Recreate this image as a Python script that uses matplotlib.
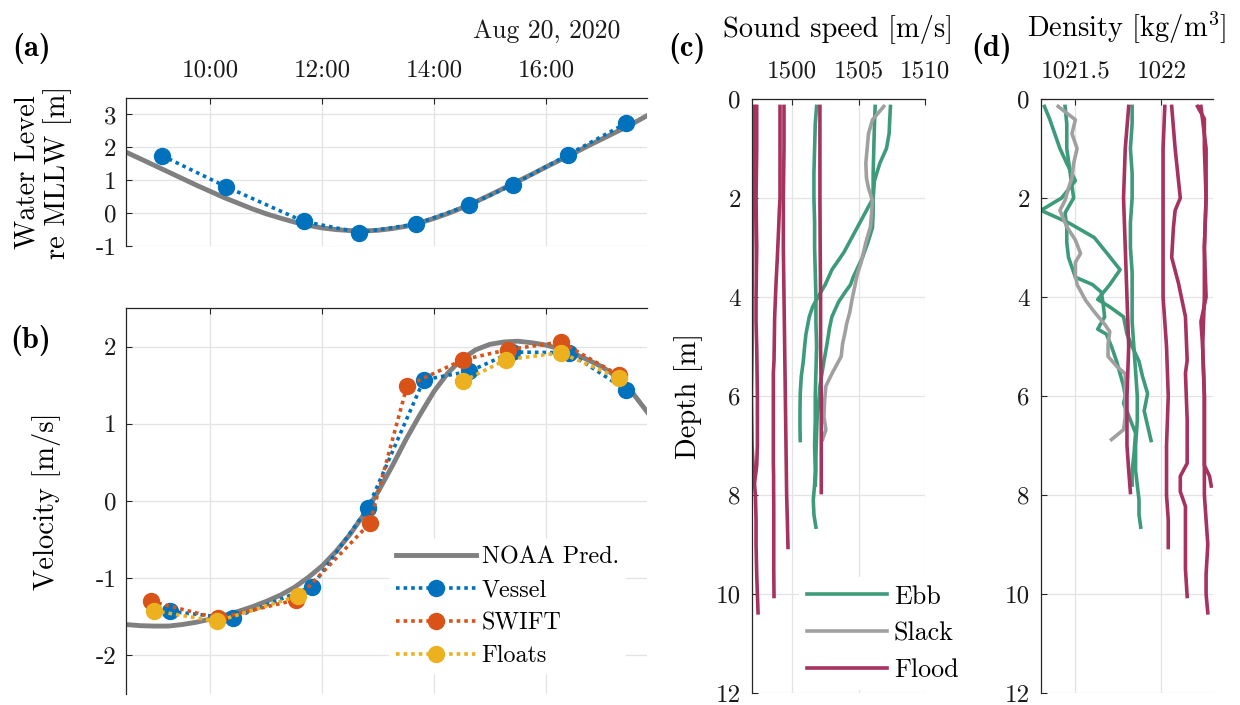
import numpy as np
import pandas as pd
import matplotlib
matplotlib.use('Agg')
import matplotlib.pyplot as plt

plt.rcParams['font.family'] = 'cmr10'
plt.rcParams['mathtext.fontset'] = 'cm'
plt.rcParams['axes.unicode_minus'] = False

day = '2020-08-20 '

# NOAA predictions (tide and current), every 15 min
noaa_times = ['08:29', '08:45', '09:00', '09:15', '09:30', '09:45', '10:00', '10:15', '10:30', '10:45',
              '11:00', '11:15', '11:30', '11:45', '12:00', '12:15', '12:30', '12:45', '13:00', '13:15',
              '13:30', '13:45', '14:00', '14:15', '14:30', '14:45', '15:00', '15:15', '15:30', '15:45',
              '16:00', '16:15', '16:30', '16:45', '17:00', '17:15', '17:30', '17:49']
noaa_level = [1.86, 1.65, 1.45, 1.25, 1.05, 0.85, 0.66, 0.47, 0.30, 0.13,
              -0.02, -0.15, -0.27, -0.37, -0.45, -0.50, -0.53, -0.54, -0.52, -0.47,
              -0.40, -0.29, -0.16, -0.01, 0.16, 0.35, 0.55, 0.76, 0.97, 1.18,
              1.40, 1.61, 1.82, 2.04, 2.25, 2.46, 2.67, 2.97]
noaa_vel = [-1.60, -1.615, -1.62, -1.62, -1.60, -1.57, -1.53, -1.48, -1.43, -1.37,
            -1.30, -1.22, -1.12, -0.99, -0.84, -0.65, -0.43, -0.17, 0.12, 0.45,
            0.80, 1.12, 1.42, 1.66, 1.84, 1.96, 2.03, 2.06, 2.07, 2.05,
            2.02, 1.97, 1.91, 1.83, 1.74, 1.62, 1.45, 1.15]

# measured water level from the vessel
level_times = ['09:08', '10:17', '11:40', '12:40', '13:41', '14:38', '15:25', '16:24', '17:26']
vessel_level = [1.75, 0.80, -0.25, -0.59, -0.33, 0.25, 0.87, 1.78, 2.73]

# depth averaged velocity (no float data around slack water)
vessel_times = ['09:17', '10:24', '11:49', '12:49', '13:49', '14:38', '15:24', '16:25', '17:26']
vessel_vel = [-1.43, -1.52, -1.11, -0.09, 1.57, 1.68, 1.93, 1.92, 1.44]
swift_times = ['08:56', '10:08', '11:32', '12:51', '13:31', '14:31', '15:19', '16:16', '17:18']
swift_vel = [-1.30, -1.52, -1.28, -0.29, 1.49, 1.83, 1.96, 2.06, 1.63]
float_times = ['08:59', '10:07', '11:34', '12:50', '14:31', '15:17', '16:16', '17:19']
float_vel = [-1.42, -1.56, -1.23, np.nan, 1.55, 1.83, 1.92, 1.59]

time_window = ['08:29:24', '17:48:36']
hour_ticks = ['10:00', '12:00', '14:00', '16:00']
level_ticks = [-1, 0, 1, 2, 3]
vel_ticks = [-2, -1, 0, 1, 2]

# CTD casts: depth [m], sound speed [m/s], density [kg/m^3]
ebb1_z = [0.15, 0.5, 1.0, 1.5, 2.0, 2.5, 3.0, 3.5, 4.0, 4.5, 5.0, 5.5, 6.0, 6.5, 7.0, 7.5, 7.8, 8.1, 8.4, 8.65]
ebb1_c = [1501.85, 1501.75, 1501.7, 1501.65, 1501.65, 1501.7, 1501.7, 1501.75, 1501.8, 1501.8,
          1501.85, 1501.8, 1501.75, 1501.75, 1501.7, 1501.75, 1501.7, 1501.6, 1501.65, 1501.8]
ebb1_rho = [1021.83, 1021.83, 1021.82, 1021.83, 1021.83, 1021.82, 1021.82, 1021.83, 1021.83, 1021.83,
            1021.84, 1021.85, 1021.86, 1021.86, 1021.85, 1021.85, 1021.86, 1021.87, 1021.87, 1021.88]

ebb2_z = [0.15, 0.4, 0.7, 1.0, 1.3, 1.65, 2.0, 2.25, 2.5, 2.8, 3.1, 3.45, 3.75, 4.05, 4.2, 4.4,
          4.75, 5.0, 5.3, 5.6, 5.95, 6.3, 6.6, 6.9]
ebb2_c = [1507.4, 1507.35, 1507.3, 1507.1, 1506.6, 1506.2, 1506.1, 1505.6, 1505.1, 1504.5, 1503.9,
          1503.0, 1502.5, 1501.85, 1501.55, 1501.3, 1501.05, 1500.95, 1500.85, 1500.7, 1500.62,
          1500.6, 1500.6, 1500.62]
ebb2_rho = [1021.32, 1021.35, 1021.38, 1021.41, 1021.45, 1021.50, 1021.42, 1021.30, 1021.46, 1021.61,
            1021.68, 1021.76, 1021.70, 1021.63, 1021.70, 1021.78, 1021.80, 1021.83, 1021.87, 1021.89,
            1021.92, 1021.90, 1021.92, 1021.94]

ebb3_z = [0.15, 0.5, 1.0, 1.5, 2.0, 2.3, 2.6, 2.9, 3.2, 3.6, 3.75, 3.9, 4.1, 4.4, 4.65, 4.75, 5.0,
          5.3, 5.8, 6.0, 6.15, 6.4, 6.75, 7.2, 7.5, 7.8]
ebb3_c = [1506.25, 1506.2, 1506.15, 1506.1, 1506.1, 1506.1, 1506.05, 1505.7, 1505.3, 1504.6, 1504.4,
          1504.0, 1503.5, 1503.0, 1502.8, 1502.75, 1502.6, 1502.4, 1502.1, 1502.05, 1502.0, 1501.9,
          1501.85, 1501.8, 1501.8, 1501.75]
ebb3_rho = [1021.44, 1021.45, 1021.45, 1021.47, 1021.49, 1021.44, 1021.45, 1021.45, 1021.46, 1021.50,
            1021.60, 1021.65, 1021.66, 1021.67, 1021.63, 1021.68, 1021.71, 1021.74, 1021.78, 1021.79,
            1021.78, 1021.81, 1021.85, 1021.84, 1021.83, 1021.83]

slack_z = [0.15, 0.42, 0.7, 1.0, 1.3, 1.6, 1.8, 2.05, 2.25, 2.58, 2.85, 3.12, 3.3, 3.55, 3.75, 4.07,
           4.3, 4.55, 4.7, 4.95, 5.2, 5.4, 5.55, 5.8, 6.1, 6.42, 6.68, 6.88]
slack_c = [1506.9, 1506.05, 1505.75, 1505.65, 1505.55, 1505.6, 1505.75, 1506.05, 1506.0, 1505.9,
           1505.6, 1505.35, 1505.2, 1504.9, 1504.75, 1504.5, 1504.35, 1504.1, 1504.0, 1503.8,
           1503.7, 1503.3, 1503.0, 1502.55, 1502.45, 1502.4, 1502.55, 1502.3]
slack_rho = [1021.40, 1021.50, 1021.48, 1021.51, 1021.49, 1021.48, 1021.46, 1021.44, 1021.41, 1021.45,
             1021.50, 1021.53, 1021.50, 1021.50, 1021.51, 1021.56, 1021.61, 1021.67, 1021.70, 1021.69,
             1021.69, 1021.74, 1021.79, 1021.79, 1021.79, 1021.79, 1021.78, 1021.71]

flood1_z = [0.15, 1.0, 2.0, 3.0, 4.0, 5.0, 6.0, 7.0, 7.5, 8.0, 8.5, 9.0, 9.6, 10.0, 10.38]
flood1_c = [1497.2, 1497.15, 1497.1, 1497.05, 1497.0, 1497.0, 1496.95, 1497.0, 1497.1, 1497.25,
            1497.3, 1497.3, 1497.35, 1497.4, 1497.45]
flood1_rho = [1022.23, 1022.26, 1022.26, 1022.25, 1022.25, 1022.24, 1022.25, 1022.25, 1022.25, 1022.25,
              1022.26, 1022.27, 1022.26, 1022.26, 1022.27]

flood2_z = [0.15, 0.4, 1.0, 2.0, 3.0, 4.0, 4.5, 5.0, 6.0, 7.0, 7.4, 7.62, 7.82]
flood2_c = [1497.35, 1497.35, 1497.35, 1497.3, 1497.35, 1497.3, 1497.3, 1497.35, 1497.4, 1497.4,
            1497.35, 1497.25, 1497.15]
flood2_rho = [1022.21, 1022.25, 1022.25, 1022.26, 1022.25, 1022.26, 1022.23, 1022.24, 1022.25, 1022.25,
              1022.25, 1022.28, 1022.29]

flood3_z = [0.15, 1.0, 2.0, 2.25, 2.6, 3.2, 3.73, 4.4, 5.28, 5.54, 6.48, 7.36, 7.62, 7.93, 8.23,
            8.9, 9.5, 10.05]
flood3_c = [1499.1, 1499.1, 1499.1, 1499.05, 1499.0, 1498.9, 1498.8, 1498.7, 1498.65, 1498.6, 1498.6,
            1498.6, 1498.62, 1498.62, 1498.63, 1498.63, 1498.63, 1498.65]
flood3_rho = [1022.06, 1022.08, 1022.11, 1022.08, 1022.07, 1022.06, 1022.10, 1022.14, 1022.15, 1022.14,
              1022.15, 1022.15, 1022.11, 1022.11, 1022.14, 1022.14, 1022.14, 1022.15]

flood4_z = [0.15, 1.0, 2.0, 3.0, 4.0, 5.0, 6.0, 7.0, 8.0, 8.5, 9.06]
flood4_c = [1499.4, 1499.4, 1499.35, 1499.35, 1499.4, 1499.45, 1499.5, 1499.55, 1499.6, 1499.65, 1499.7]
flood4_rho = [1022.02, 1022.01, 1022.01, 1022.01, 1022.01, 1022.03, 1022.04, 1022.03, 1022.03,
              1022.04, 1022.04]

flood5_z = [0.15, 1.0, 2.0, 3.0, 4.0, 5.0, 6.0, 7.0, 7.5, 7.95]
flood5_c = [1502.1, 1502.1, 1502.1, 1502.12, 1502.15, 1502.15, 1502.2, 1502.2, 1502.2, 1502.2]
flood5_rho = [1021.81, 1021.79, 1021.78, 1021.79, 1021.80, 1021.81, 1021.80, 1021.80, 1021.81, 1021.82]

depth_ticks = [0, 2, 4, 6, 8, 10, 12]
c_ticks = [1500, 1505, 1510]
rho_ticks = [1021.5, 1022]
rho_labels = ['1021.5', '1022']

ebb_casts = [(ebb1_z, ebb1_c, ebb1_rho), (ebb2_z, ebb2_c, ebb2_rho), (ebb3_z, ebb3_c, ebb3_rho)]
slack_casts = [(slack_z, slack_c, slack_rho)]
flood_casts = [(flood1_z, flood1_c, flood1_rho), (flood2_z, flood2_c, flood2_rho),
               (flood3_z, flood3_c, flood3_rho), (flood4_z, flood4_c, flood4_rho),
               (flood5_z, flood5_c, flood5_rho)]

BLUE, ORANGE, YELLOW, GREY = '#0072BD', '#D95319', '#EDB120', '#808080'
EBB, SLACK, FLOOD = '#3E9B7A', '#A0A0A0', '#A5325F'
INK = '#262626'


def clock(times):
    return pd.to_datetime([day + t for t in times])


def style(ax):
    for s in ['right', 'bottom']:
        ax.spines[s].set_visible(False)
    for s in ['top', 'left']:
        ax.spines[s].set_color(INK)
        ax.spines[s].set_linewidth(0.9)
    ax.xaxis.tick_top()
    ax.xaxis.set_label_position('top')
    ax.tick_params(direction='in', length=4, width=0.8, colors=INK, labelcolor='#1a1a1a',
                   labelsize=18)
    ax.tick_params(axis='x', pad=12)
    ax.tick_params(axis='y', pad=7)
    ax.grid(True, color='#e3e3e3', lw=0.9)
    ax.set_axisbelow(True)


fig = plt.figure(figsize=(12.4, 7.05), dpi=100)
ax_a = fig.add_axes([0.1016, 0.651, 0.4202, 0.210])
ax_b = fig.add_axes([0.1016, 0.0156, 0.4202, 0.5475])
ax_c = fig.add_axes([0.6065, 0.017, 0.1395, 0.8426])
ax_d = fig.add_axes([0.8395, 0.017, 0.1387, 0.8426])

dotted = (0, (1, 1.1))
xlim = clock(time_window)

# (a) water level
ax_a.plot(clock(noaa_times), noaa_level, color=GREY, lw=3.5)
ax_a.plot(clock(level_times), vessel_level, color=BLUE, lw=2.6, ls=dotted, marker='o', ms=11.5)
ax_a.set_xlim(xlim)
ax_a.set_ylim(-1, 3.5)
ax_a.set_xticks(clock(hour_ticks))
ax_a.set_xticklabels(hour_ticks)
ax_a.set_yticks(level_ticks)
ax_a.set_yticklabels([str(v) for v in level_ticks])
style(ax_a)
ax_a.set_ylabel('Water Level\nre MLLW [m]', fontsize=20.5, linespacing=1.12)
ax_a.yaxis.set_label_coords(-0.104, 0.5)

# (b) velocity
ax_b.plot(clock(noaa_times), noaa_vel, color=GREY, lw=3.5, label='NOAA Pred.')
ax_b.plot(clock(vessel_times), vessel_vel, color=BLUE, lw=2.6, ls=dotted, marker='o', ms=11.5,
          label='Vessel')
ax_b.plot(clock(swift_times), swift_vel, color=ORANGE, lw=2.6, ls=dotted, marker='o', ms=11.5,
          label='SWIFT')
ax_b.plot(clock(float_times), float_vel, color=YELLOW, lw=2.6, ls=dotted, marker='o', ms=11.5,
          label='Floats')
ax_b.set_xlim(xlim)
ax_b.set_ylim(-2.5, 2.5)
ax_b.set_xticks(clock(hour_ticks))
ax_b.set_xticklabels([])
ax_b.set_yticks(vel_ticks)
ax_b.set_yticklabels([str(v) for v in vel_ticks])
style(ax_b)
ax_b.set_ylabel('Velocity [m/s]', fontsize=20.5)
ax_b.yaxis.set_label_coords(-0.125, 0.5)
ax_b.legend(loc='upper left', bbox_to_anchor=(389 / 1240, 1 - 539 / 705),
            bbox_transform=fig.transFigure, frameon=True, fancybox=False, edgecolor='none',
            facecolor='white', framealpha=1, fontsize=17.3, handlelength=3.3,
            handletextpad=0.25, labelspacing=0.45, borderpad=0.3, borderaxespad=0, numpoints=1)

# (c) sound speed and (d) density profiles
for casts, col, name in [(ebb_casts, EBB, 'Ebb'), (slack_casts, SLACK, 'Slack'),
                         (flood_casts, FLOOD, 'Flood')]:
    for i, (z, c, rho) in enumerate(casts):
        ax_c.plot(c, z, color=col, lw=2.6, label=name if i == 0 else None)
        ax_d.plot(rho, z, color=col, lw=2.6)

ax_c.set_xlim(1497, 1510)
ax_c.set_xticks(c_ticks)
ax_c.set_xticklabels([str(v) for v in c_ticks])
ax_d.set_xlim(1021.3, 1022.3)
ax_d.set_xticks(rho_ticks)
ax_d.set_xticklabels(rho_labels)
for ax in [ax_c, ax_d]:
    ax.set_ylim(12, 0)
    ax.set_yticks(depth_ticks)
    ax.set_yticklabels([str(v) for v in depth_ticks])
    style(ax)
    ax.tick_params(axis='y', pad=8)

ax_c.set_xlabel('Sound speed [m/s]', fontsize=20.5)
ax_c.xaxis.set_label_coords(0.5, 1.104)
ax_d.set_xlabel('Density [kg/m$^3$]', fontsize=20.5)
ax_d.xaxis.set_label_coords(0.5, 1.104)
ax_c.set_ylabel('Depth [m]', fontsize=20.5)
ax_c.yaxis.set_label_coords(-0.283, 0.5)
ax_c.legend(loc='upper left', bbox_to_anchor=(799 / 1240, 1 - 577 / 705),
            bbox_transform=fig.transFigure, frameon=True, fancybox=False, edgecolor='none',
            facecolor='white', framealpha=1, fontsize=18.7, handlelength=3.1,
            handletextpad=0.25, labelspacing=0.5, borderpad=0.3, borderaxespad=0)

fig.text(620 / 1240, 1 - 31 / 705, 'Aug 20, 2020', ha='right', va='center', fontsize=18.5,
         color='#1a1a1a')
for lab, x, y in [('(a)', 32, 48), ('(b)', 31, 340), ('(c)', 687, 48), ('(d)', 992, 48)]:
    fig.text(x / 1240, 1 - y / 705, lab, ha='center', va='center', fontsize=22,
             family='cmb10')

fig.savefig('out.png', dpi=100)
